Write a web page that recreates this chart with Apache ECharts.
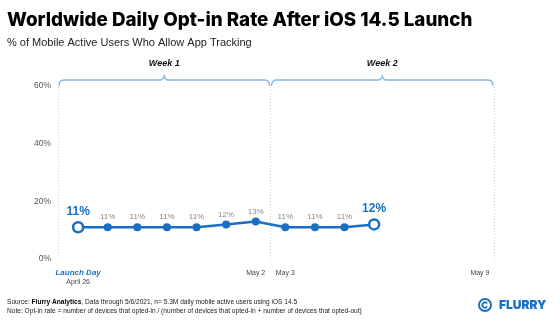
<!DOCTYPE html>
<html><head><meta charset="utf-8">
<script src="https://cdn.jsdelivr.net/npm/echarts@6/dist/echarts.min.js"></script>
<style>html,body{margin:0;padding:0;background:#fff}#c{width:560px;height:326px}</style>
</head><body><div id="c"></div>
<script>
// ---- data ----
const dayIndex = [0,1,2,3,4,5,6,7,8,9,10];
const optInRate = [11,11,11,11,11,12,13,11,11,11,12];
const xTickPos = [0,6,7,13];
const xTickLabels = ['Launch Day','May 2','May 3','May 9'];
const weekNames = ['Week 1','Week 2'];
const weekStart = [-0.68, 6.5];
const weekEnd = [6.5, 14.05];
const yTicks = [0,20,40,60];

const BLUE = '#1a6fc4';
const chart = echarts.init(document.getElementById('c'));

const lineData = dayIndex.map((d,i)=>{
  const item = {value:[d, optInRate[i]]};
  if (i===0 || i===dayIndex.length-1){
    item.symbol='circle'; item.symbolSize=10;
    item.itemStyle={color:'#fff', borderColor:BLUE, borderWidth:2.5};
    item.label={fontSize:12, fontWeight:'bold', color:BLUE, distance:3, fontFamily:'Liberation Sans'};
  }
  return item;
});

chart.setOption({
  animation:false,
  grid:{left:58, right:66, top:86, bottom:67},
  xAxis:{type:'value', min:weekStart[0], max:weekEnd[1], show:false},
  yAxis:{type:'value', min:yTicks[0], max:yTicks[yTicks.length-1], interval:20,
    axisLine:{show:false}, axisTick:{show:false}, splitLine:{show:false},
    axisLabel:{formatter:'{value}%', color:'#555', fontSize:8.5, margin:7, fontFamily:'Liberation Sans'}},
  series:[
    {type:'line', data:lineData, symbol:'circle', symbolSize:8, z:5,
     lineStyle:{color:BLUE, width:2.5}, itemStyle:{color:BLUE},
     label:{show:true, position:'top', distance:2, fontSize:8, color:'#888', fontFamily:'Liberation Sans',
       formatter:p=>Math.round(p.value[1])+'%'},
     markLine:{silent:true, symbol:'none', label:{show:false},
       lineStyle:{color:'#d0d0d0', type:[1,2], width:1},
       data:[{xAxis:weekStart[0]},{xAxis:weekEnd[0]},{xAxis:weekEnd[1]}]}},
    {type:'custom', clip:false, silent:true, z:3,
     data:weekNames.map((n,i)=>[weekStart[i], weekEnd[i], n]),
     renderItem:(params, api)=>{
       const a = api.coord([api.value(0), 60]);
       const b = api.coord([api.value(1), 60]);
       const y = a[1]-6;
       const x0 = a[0]+1, x1 = b[0]-1, xm=(a[0]+b[0])/2;
       const path = `M${x0},${y+6} Q${x0},${y} ${x0+5},${y} L${xm-4},${y} Q${xm-1},${y} ${xm},${y-4} Q${xm+1},${y} ${xm+4},${y} L${x1-5},${y} Q${x1},${y} ${x1},${y+6}`;
       return {type:'group', children:[
         {type:'path', shape:{pathData:path}, style:{fill:null, stroke:'#86b6e2', lineWidth:1.3}},
         {type:'text', style:{text:api.value(2), x:xm, y:y-16, align:'center', verticalAlign:'middle',
           font:'italic bold 9px "Liberation Sans"', fill:'#111'}}
       ]};
     }},
    {type:'custom', clip:false, silent:true,
     data:xTickPos.map((p,i)=>[p, i]),
     renderItem:(params, api)=>{
       const i = api.value(1);
       const pt = api.coord([api.value(0), 0]);
       const txt = xTickLabels[i];
       const isFirst = i===0, isLast = i===xTickLabels.length-1;
       const children = [{type:'text', style:{text:txt, x:pt[0]+(isLast?17:0), y:pt[1]+14, align:'center', verticalAlign:'middle',
         font: isFirst ? 'italic bold 8px "Liberation Sans"' : '7px "Liberation Sans"', fill: isFirst?BLUE:'#444'}}];
       if (isFirst) children.push({type:'text', style:{text:'April 26', x:pt[0], y:pt[1]+23, align:'center', verticalAlign:'middle',
         font:'7px "Liberation Sans"', fill:'#444'}});
       return {type:'group', children};
     }}
  ],
  graphic:[
    {type:'text', left:7, top:11, style:{text:'Worldwide Daily Opt-in Rate After iOS 14.5 Launch', font:'800 18.8px Inter', fill:'#000'}},
    {type:'text', left:7, top:37, style:{text:'% of Mobile Active Users Who Allow App Tracking', font:'11px "Liberation Sans"', fill:'#222'}},
    {type:'text', left:7, top:299, style:{text:'{n|Source: }{b|Flurry Analytics}{n|, Data through 5/6/2021, n= 5.3M daily mobile active users using iOS 14.5}',
      rich:{n:{font:'6.6px "Liberation Sans"', fill:'#222'}, b:{font:'bold 6.6px "Liberation Sans"', fill:'#000'}}}},
    {type:'text', left:7, top:308, style:{text:'Note: Opt-in rate = number of devices that opted-in / (number of devices that opted-in + number of devices that opted-out)',
      font:'6.6px "Liberation Sans"', fill:'#222'}},
    {type:'group', left:478, top:298, children:[
      {type:'circle', shape:{cx:7, cy:7, r:7}, style:{fill:BLUE}},
      {type:'circle', shape:{cx:7, cy:7, r:5}, style:{fill:'#fff'}},
      {type:'arc', shape:{cx:7, cy:7, r:2.6, startAngle:0.6, endAngle:Math.PI*2-0.6}, style:{stroke:BLUE, lineWidth:1.8, fill:null}}
    ]},
    {type:'text', left:499, top:299.5, style:{text:'FLURRY', font:'900 12px Inter', fill:BLUE}}
  ]
});
</script></body></html>
